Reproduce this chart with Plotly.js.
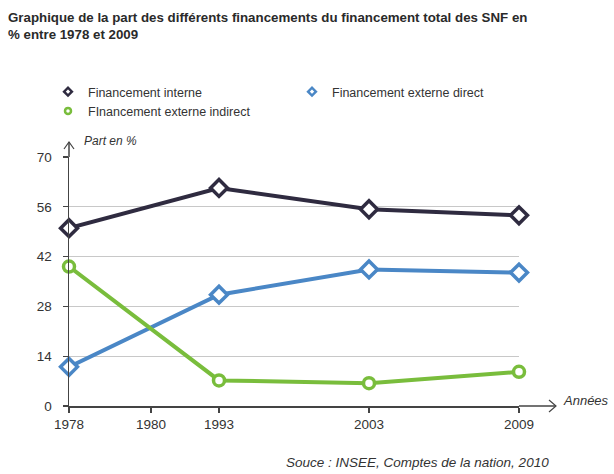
<!DOCTYPE html>
<html>
<head>
<meta charset="utf-8">
<script src="https://cdn.plot.ly/plotly-3.0.1.min.js"></script>
<style>html,body{margin:0;padding:0;background:#fff;}#chart{width:614px;height:474px;}</style>
</head>
<body>
<div id="chart"></div>
<script>
// ---- data ----
const years = ['1978', '1993', '2003', '2009'];
const tickYears = ['1978', '1980', '1993', '2003', '2009'];
const interne = [50, 61.3, 55.3, 53.6];
const externeDirect = [11, 31.3, 38.4, 37.5];
const externeIndirect = [39.2, 7.2, 6.4, 9.6];
const yTicks = [0, 14, 28, 42, 56, 70];
const seriesNames = ['Financement interne', 'Financement externe direct', 'FInancement externe indirect'];

// ---- geometry helpers (pixel -> paper) ----
const W = 614, H = 474;
const L = 69, R = 519, T = 157, B = 406;
const px = x => (x - L) / (R - L);
const py = y => (B - y) / (B - T);

const xIdx = years.map((_, i) => i);
// tick positions: data years at their index; 1980 placed as in the source figure
const tickPos = [0, 0.547, 1, 2, 3];

const colors = ['#2f2b40', '#4a87c6', '#79bd3c'];
const symbols = ['diamond', 'diamond', 'circle'];
const values = [interne, externeDirect, externeIndirect];

const traces = values.map((v, i) => ({
  x: xIdx, y: v, type: 'scatter', mode: 'lines+markers',
  name: seriesNames[i], showlegend: false, cliponaxis: false,
  line: {color: colors[i], width: 4},
  marker: {symbol: symbols[i], size: i === 2 ? 11 : 13, color: '#ffffff',
           line: {color: colors[i], width: 3.5}}
}));
// legend-only entries (marker only)
const legendOf = [ 'legend', 'legend2', 'legend' ];
const legendOrder = [0, 2, 1];
legendOrder.forEach(i => {
  traces.push({
    x: [null], y: [null], type: 'scatter', mode: 'markers',
    name: seriesNames[i], showlegend: true, legend: legendOf[i],
    marker: {symbol: symbols[i], size: 6, color: '#ffffff',
             line: {color: colors[i], width: 2.5}}
  });
});

const axisCol = '#444';
const layout = {
  width: W, height: H,
  paper_bgcolor: '#ffffff', plot_bgcolor: '#ffffff',
  margin: {l: L, r: W - R, t: T, b: H - B, pad: 0},
  font: {family: 'Liberation Sans, Arial, sans-serif', color: '#333', size: 13},
  title: {
    text: '<b>Graphique de la part des différents financements du financement total des SNF en<br>% entre 1978 et 2009</b>',
    x: 8 / W, xref: 'container', xanchor: 'left',
    y: 1 - 22 / H, yref: 'container', yanchor: 'top',
    font: {size: 13.3, color: '#2a2a2a', family: 'Liberation Sans, Arial, sans-serif'}
  },
  xaxis: {
    range: [0, 3], tickmode: 'array', tickvals: tickPos, ticktext: tickYears,
    showgrid: false, zeroline: false, showline: true, linecolor: axisCol, linewidth: 1.5,
    ticks: 'outside', ticklen: 5, tickcolor: axisCol, tickwidth: 1.2,
    tickfont: {size: 13.5, color: '#333'}, fixedrange: true
  },
  yaxis: {
    range: [0, 70], tickmode: 'array', tickvals: yTicks,
    showgrid: true, gridcolor: '#c8c8c8', gridwidth: 1.3, zeroline: false,
    showline: true, linecolor: axisCol, linewidth: 1.5,
    ticks: 'outside', ticklen: 5, tickcolor: axisCol, tickwidth: 1.2,
    ticklabelstandoff: 8,
    tickfont: {size: 13.5, color: '#333'}, fixedrange: true
  },
  legend: {
    x: px(48), y: py(77), xanchor: 'left', yanchor: 'top',
    orientation: 'v', bgcolor: 'rgba(0,0,0,0)', borderwidth: 0,
    font: {size: 12.5, color: '#333'}, itemwidth: 30, tracegroupgap: 0
  },
  legend2: {
    x: px(292), y: py(77), xanchor: 'left', yanchor: 'top',
    orientation: 'v', bgcolor: 'rgba(0,0,0,0)', borderwidth: 0,
    font: {size: 12.5, color: '#333'}, itemwidth: 30
  },
  shapes: [
    // y-axis extension and arrow
    {type: 'line', xref: 'paper', yref: 'paper', x0: 0, x1: 0, y0: 1, y1: py(142),
     line: {color: axisCol, width: 1.5}},
    {type: 'path', xref: 'paper', yref: 'paper',
     path: `M ${px(64)} ${py(149)} L ${px(69)} ${py(142)} L ${px(74)} ${py(149)}`,
     line: {color: axisCol, width: 1.2}},
    // x-axis extension and arrow
    {type: 'line', xref: 'paper', yref: 'paper', x0: 1, x1: px(556), y0: 0, y1: 0,
     line: {color: axisCol, width: 1.5}},
    {type: 'path', xref: 'paper', yref: 'paper',
     path: `M ${px(549)} ${py(400)} L ${px(556)} ${py(406)} L ${px(549)} ${py(412)}`,
     line: {color: axisCol, width: 1.2}}
  ],
  annotations: [
    {text: '<i>Part en %</i>', xref: 'paper', yref: 'paper', x: px(82), y: py(141),
     xanchor: 'left', yanchor: 'middle', showarrow: false, font: {size: 12, color: '#333'}},
    {text: '<i>Années</i>', xref: 'paper', yref: 'paper', x: px(561), y: py(400),
     xanchor: 'left', yanchor: 'middle', showarrow: false, font: {size: 13, color: '#333'}},
    {text: '<i>Souce : INSEE, Comptes de la nation, 2010</i>', xref: 'paper', yref: 'paper',
     x: px(551), y: py(462), xanchor: 'right', yanchor: 'middle', showarrow: false,
     font: {size: 13.5, color: '#333'}}
  ]
};

Plotly.newPlot('chart', traces, layout, {displayModeBar: false, staticPlot: true});
</script>
</body>
</html>
